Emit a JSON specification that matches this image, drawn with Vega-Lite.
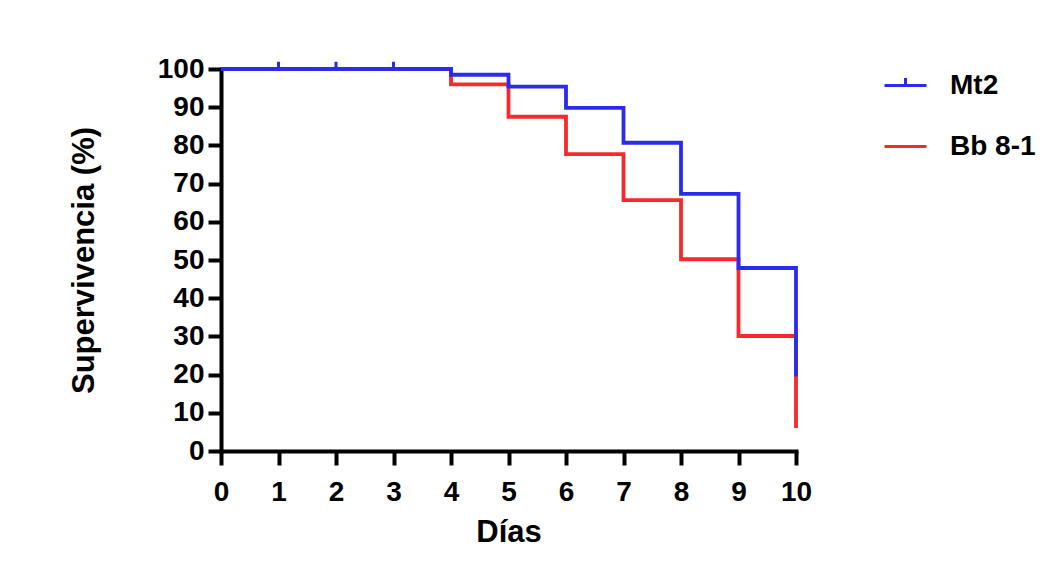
{
  "$schema": "https://vega.github.io/schema/vega-lite/v6.json",
  "width": 575,
  "height": 382,
  "autosize": {"type": "none"},
  "padding": {"left": 221, "top": 69, "right": 266, "bottom": 137},
  "background": "white",
  "config": {
    "view": {"stroke": null},
    "font": "Liberation Sans",
    "axis": {
      "domainColor": "black",
      "domainWidth": 4,
      "tickColor": "black",
      "tickWidth": 4,
      "tickSize": 13,
      "grid": false,
      "labelFont": "Liberation Sans",
      "labelFontWeight": "bold",
      "labelFontSize": 28,
      "labelColor": "black",
      "titleFont": "Liberation Sans",
      "titleFontWeight": "bold",
      "titleFontSize": 31,
      "titleColor": "black",
      "domainCap": "square"
    },
    "legend": {
      "symbolStrokeWidth": 3,
      "labelFont": "Liberation Sans",
      "labelFontWeight": "bold",
      "labelFontSize": 28,
      "labelColor": "black"
    }
  },
  "datasets": {
    "curves": [
      {"serie": "Bb 8-1", "dia": 0, "supervivencia": 100},
      {"serie": "Bb 8-1", "dia": 4, "supervivencia": 96},
      {"serie": "Bb 8-1", "dia": 5, "supervivencia": 87.5},
      {"serie": "Bb 8-1", "dia": 6, "supervivencia": 77.7},
      {"serie": "Bb 8-1", "dia": 7, "supervivencia": 65.7},
      {"serie": "Bb 8-1", "dia": 8, "supervivencia": 50.2},
      {"serie": "Bb 8-1", "dia": 9, "supervivencia": 30.1},
      {"serie": "Bb 8-1", "dia": 10, "supervivencia": 6},
      {"serie": "Mt2", "dia": 0, "supervivencia": 100},
      {"serie": "Mt2", "dia": 4, "supervivencia": 98.5},
      {"serie": "Mt2", "dia": 5, "supervivencia": 95.4},
      {"serie": "Mt2", "dia": 6, "supervivencia": 89.8},
      {"serie": "Mt2", "dia": 7, "supervivencia": 80.7},
      {"serie": "Mt2", "dia": 8, "supervivencia": 67.3},
      {"serie": "Mt2", "dia": 9, "supervivencia": 47.9},
      {"serie": "Mt2", "dia": 10, "supervivencia": 19.5}
    ],
    "censored": [
      {"serie": "Mt2", "dia": 1, "supervivencia": 100},
      {"serie": "Mt2", "dia": 2, "supervivencia": 100},
      {"serie": "Mt2", "dia": 3, "supervivencia": 100}
    ]
  },
  "encoding": {
    "x": {
      "field": "dia",
      "type": "quantitative",
      "scale": {"domain": [0, 10], "nice": false, "zero": false},
      "axis": {"values": [0,1,2,3,4,5,6,7,8,9,10], "title": "Días", "tickSize": 14, "labelPadding": 13, "titlePadding": 11, "labelFlush": false}
    },
    "y": {
      "field": "supervivencia",
      "type": "quantitative",
      "scale": {"domain": [0, 100], "nice": false},
      "axis": {"values": [0,10,20,30,40,50,60,70,80,90,100], "title": "Supervivencia (%)", "labelPadding": 4, "titlePadding": 57, "labelFlush": false}
    },
    "color": {
      "field": "serie",
      "type": "nominal",
      "scale": {"domain": ["Mt2", "Bb 8-1"], "range": ["#2b2bf0", "#f52a2e"]},
      "legend": {
        "title": null,
        "orient": "none",
        "legendX": 662,
        "legendY": -6,
        "symbolSize": 1764,
        "symbolStrokeWidth": 3,
        "labelOffset": 22,
        "rowPadding": 24
      }
    }
  },
  "layer": [
    {
      "data": {"name": "curves"},
      "mark": {"type": "line", "interpolate": "step-after", "strokeWidth": 3.8}
    },
    {
      "data": {"name": "censored"},
      "mark": {"type": "point", "filled": false, "strokeWidth": 3, "size": 1600, "opacity": 1},
      "encoding": {
        "shape": {
          "field": "serie",
          "type": "nominal",
          "scale": {"domain": ["Mt2", "Bb 8-1"], "range": ["M-1,0L1,0M0,0L0,-0.36", "M-1,0L1,0"]},
          "legend": {
            "title": null,
            "orient": "none",
            "legendX": 662,
            "legendY": -6,
            "symbolSize": 1764,
            "symbolStrokeWidth": 3,
            "labelOffset": 22,
            "rowPadding": 24
          }
        }
      }
    }
  ]
}
